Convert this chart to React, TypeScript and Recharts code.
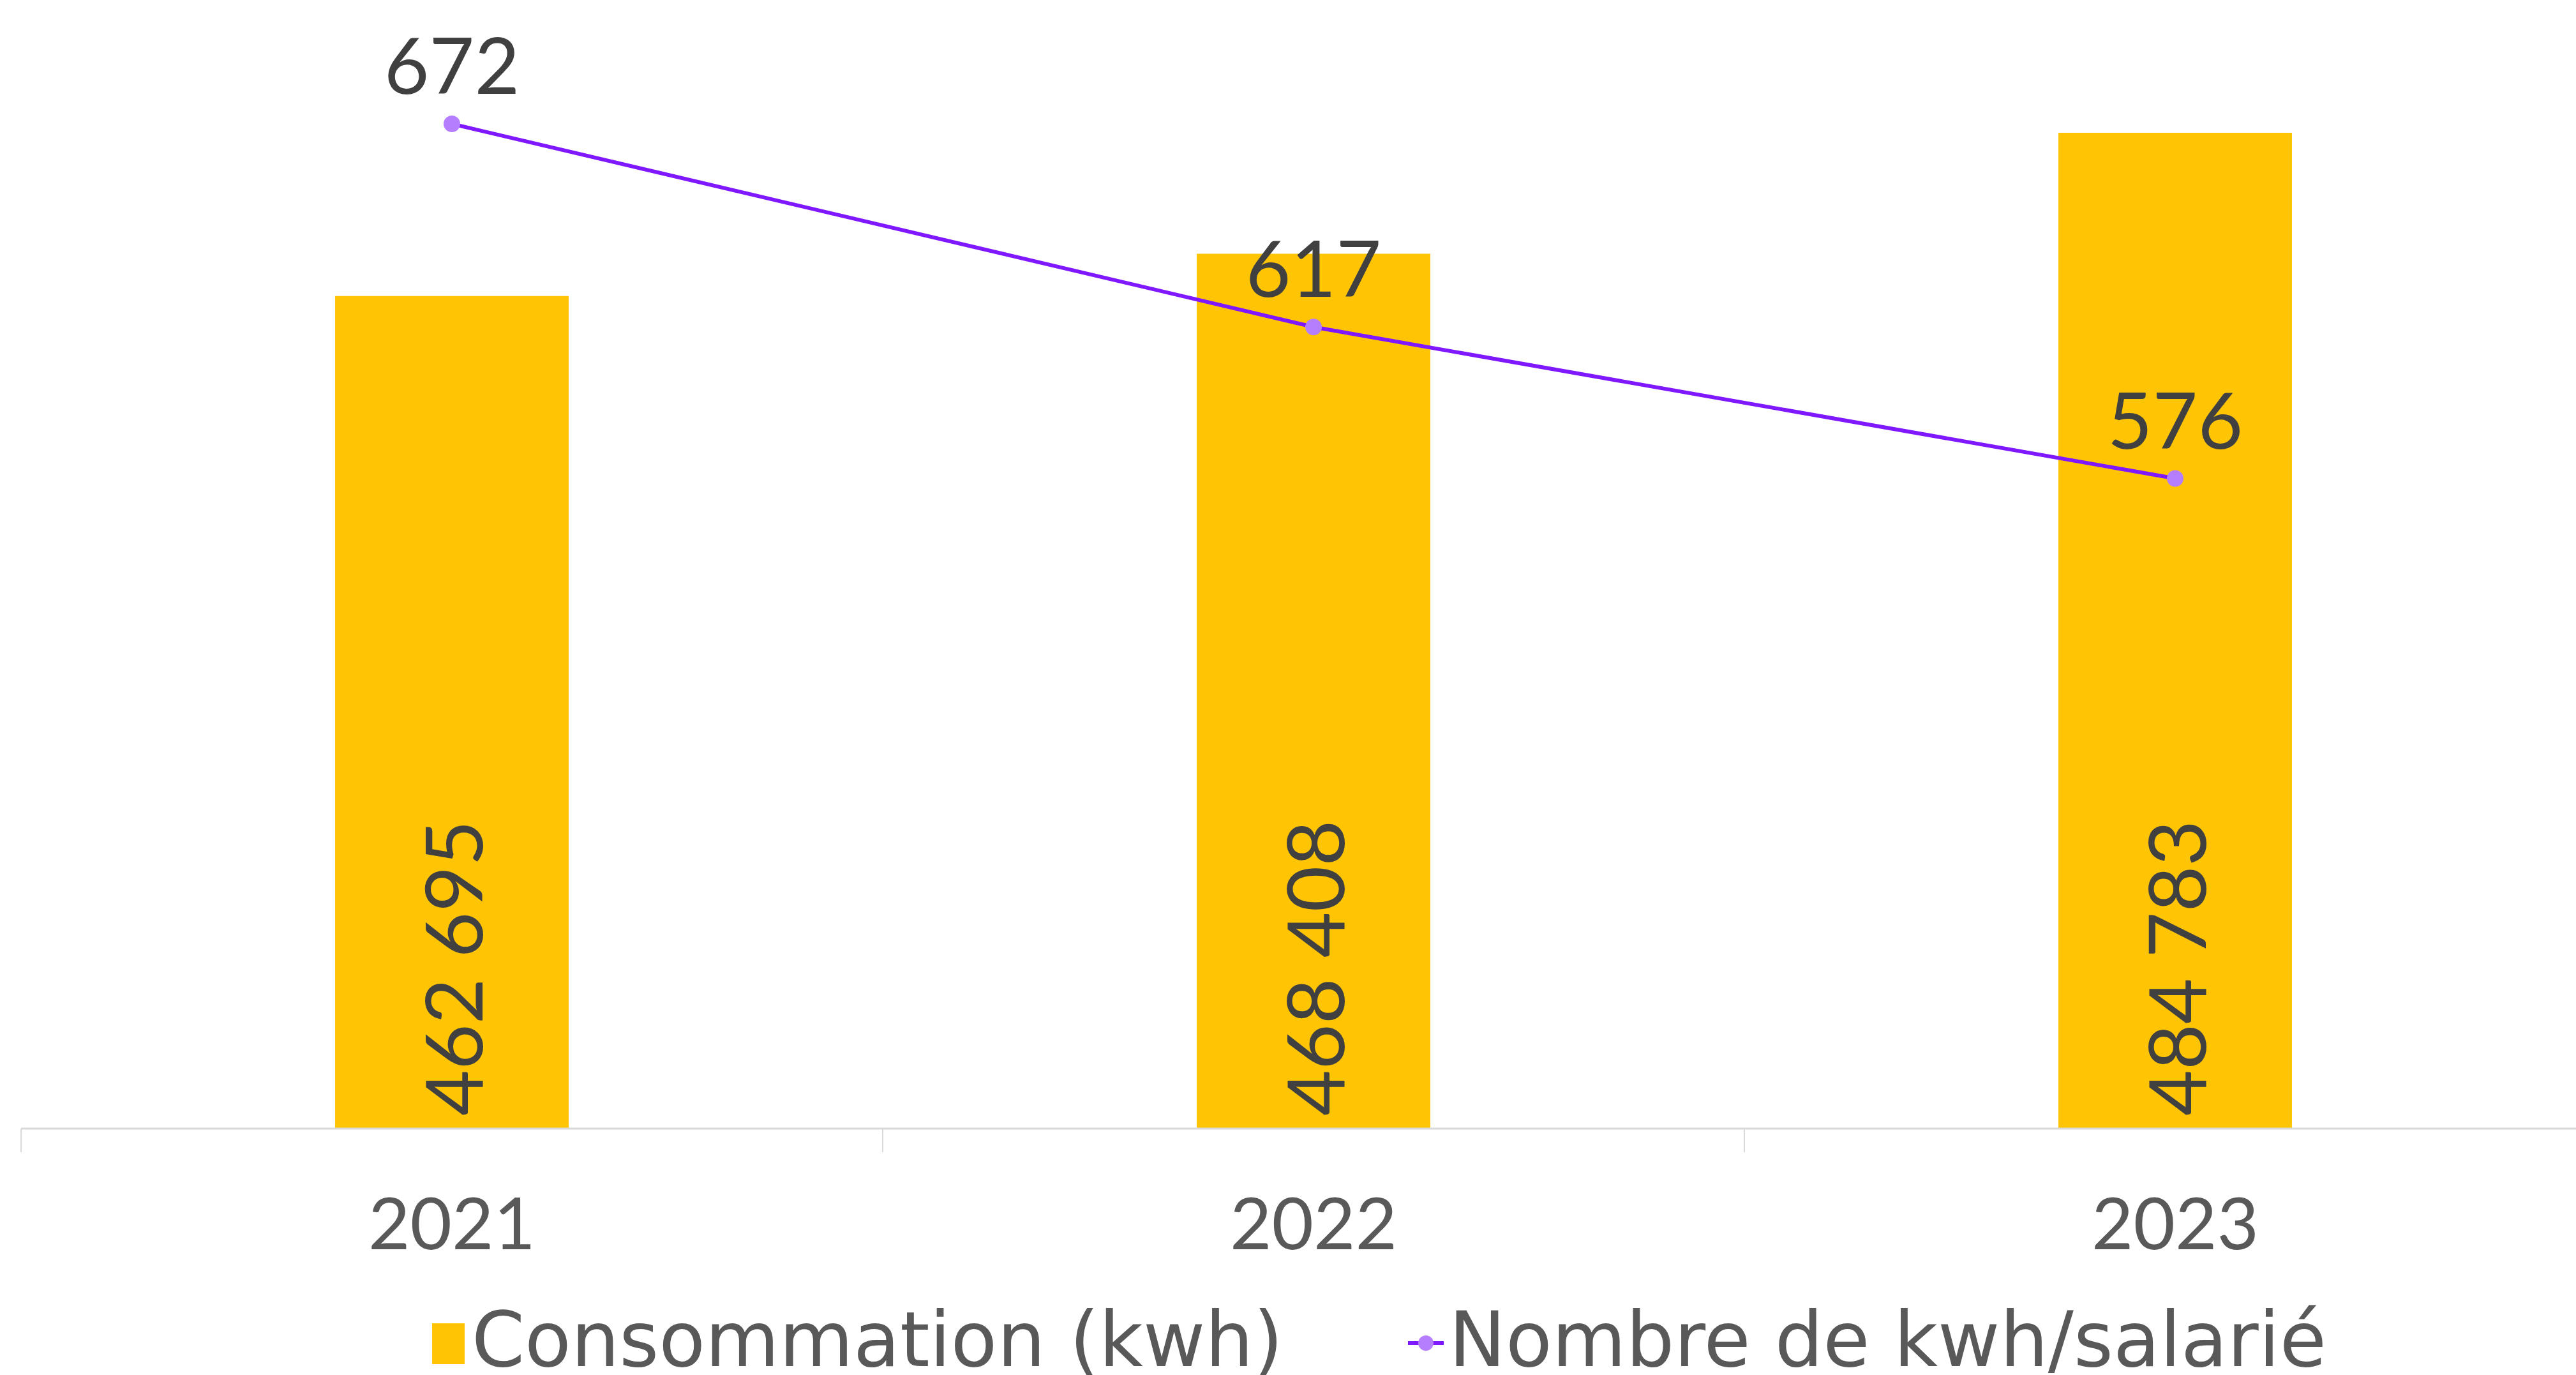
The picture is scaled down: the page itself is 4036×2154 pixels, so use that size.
import React from "react"
import { Bar, ComposedChart, LabelList, Line, XAxis, YAxis } from "recharts"

const years = ["2021", "2022", "2023"]
const consommation = [462695, 468408, 484783]
const kwhParSalarie = [672, 617, 576]

const seriesNames = ["Consommation (kwh)", "Nombre de kwh/salarié"]

const BAR_COLOR = "#FFC404"
const LINE_COLOR = "#7F17FF"
const DOT_COLOR = "#B57EFF"
const AXIS_COLOR = "#D9D9D9"
const TICK_TEXT = "#595959"
const LABEL_TEXT = "#404040"
const NUM_FONT = "Lato, 'DejaVu Sans', sans-serif"
const TEXT_FONT = "'DejaVu Sans', sans-serif"

const data = years.map((year, i) => ({
  year,
  conso: consommation[i],
  ratio: kwhParSalarie[i],
}))

const withSpaces = (v: number) => String(v).replace(/\B(?=(\d{3})+(?!\d))/g, " ")

// label + a tick mark on the left border of each category (excel style)
function CategoryTick(props: any) {
  const { x, y, payload } = props
  const half = payload?.offset ?? 0
  return (
    <g>
      <line x1={x - half} y1={y} x2={x - half} y2={y + 37} stroke={AXIS_COLOR} strokeWidth={2} />
      <text
        x={x}
        y={y + 145}
        textAnchor="middle"
        dominantBaseline="central"
        fill={TICK_TEXT}
        fontFamily={NUM_FONT}
        fontSize={113}
      >
        {payload.value}
      </text>
    </g>
  )
}

function BarValue(props: any) {
  const { x, y, width, height, value } = props
  const cx = x + width / 2
  const by = y + height - 20
  return (
    <text
      x={cx}
      y={by}
      transform={`rotate(-90 ${cx} ${by})`}
      textAnchor="start"
      dominantBaseline="central"
      fill={LABEL_TEXT}
      fontFamily={NUM_FONT}
      fontSize={124}
    >
      {withSpaces(value)}
    </text>
  )
}

export default function App() {
  return (
    <div
      style={{
        position: "absolute",
        left: 0,
        top: 0,
        width: 4036,
        height: 2154,
        overflow: "hidden",
        background: "#fff",
      }}
    >
      <ComposedChart
        width={4083}
        height={2154}
        data={data}
        margin={{ top: 32, right: 0, bottom: 0, left: 33 }}
      >
        <XAxis
          dataKey="year"
          height={386}
          axisLine={{ stroke: AXIS_COLOR, strokeWidth: 3 }}
          tickLine={false}
          tickSize={0}
          tickMargin={0}
          tick={<CategoryTick />}
          interval={0}
        />
        <YAxis yAxisId="conso" domain={[350000, 500000]} hide allowDataOverflow />
        <YAxis yAxisId="ratio" orientation="right" domain={[400, 700]} hide allowDataOverflow />
        <Bar yAxisId="conso" dataKey="conso" fill={BAR_COLOR} barSize={366} isAnimationActive={false}>
          <LabelList dataKey="conso" content={<BarValue />} />
        </Bar>
        <Line
          yAxisId="ratio"
          dataKey="ratio"
          stroke={LINE_COLOR}
          strokeWidth={6}
          dot={{ r: 13, fill: DOT_COLOR, stroke: "none" }}
          isAnimationActive={false}
        >
          <LabelList
            dataKey="ratio"
            position="top"
            offset={47}
            fill={LABEL_TEXT}
            fontFamily={NUM_FONT}
            fontSize={122}
          />
        </Line>
      </ComposedChart>

      {/* legend */}
      <svg
        width={4036}
        height={2154}
        style={{ position: "absolute", left: 0, top: 0, pointerEvents: "none" }}
      >
        <rect x={677} y={2073} width={51} height={64} fill={BAR_COLOR} />
        <text x={739} y={2140} fill={TICK_TEXT} fontFamily={TEXT_FONT} fontSize={119}>
          {seriesNames[0]}
        </text>
        <line x1={2206} y1={2104} x2={2262} y2={2104} stroke={LINE_COLOR} strokeWidth={6} />
        <circle cx={2234} cy={2104} r={12} fill={DOT_COLOR} />
        <text x={2270} y={2140} fill={TICK_TEXT} fontFamily={TEXT_FONT} fontSize={119}>
          {seriesNames[1]}
        </text>
      </svg>
    </div>
  )
}
